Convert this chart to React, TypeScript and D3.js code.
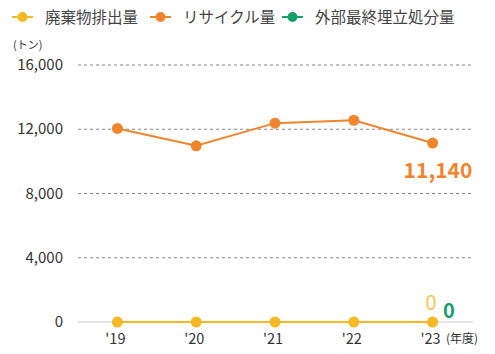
import React from "react";
import * as d3 from "d3";

const years = ["'19", "'20", "'21", "'22", "'23"];
const wasteValues = [0, 0, 0, 0, 0];
const recycleValues = [12050, 10970, 12380, 12560, 11140];
const landfillValues = [0, 0, 0, 0, 0];
const yTicks = [0, 4000, 8000, 12000, 16000];

const legendItems = [
  { label: "廃棄物排出量", color: "#F5B925" },
  { label: "リサイクル量", color: "#F0852D" },
  { label: "外部最終埋立処分量", color: "#14A06B" },
];

const W = 495;
const H = 354;
const font = "'Noto Sans CJK JP', 'Noto Sans', sans-serif";

export default function App() {
  const x = d3.scalePoint<string>().domain(years).range([78, 472]).padding(0.5);
  const y = d3.scaleLinear().domain([0, 16000]).range([322, 65]);
  const fmt = d3.format(",");

  const line = d3
    .line<number>()
    .x((_, i) => x(years[i]) as number)
    .y((d) => y(d));

  const legendX = [12, 150, 282];

  return (
    <svg width={W} height={H} style={{ position: "absolute", left: 0, top: 0, fontFamily: font }}>
      <rect width={W} height={H} fill="#fff" />
      {legendItems.map((it, i) => (
        <g key={i} transform={`translate(${legendX[i]},17)`}>
          <line x1={0} x2={21} y1={0} y2={0} stroke={it.color} strokeWidth={2} />
          <circle cx={10.5} cy={0} r={5} fill={it.color} />
          <text x={33} y={5.5} fontSize={15.5} fill="#444">{it.label}</text>
        </g>
      ))}
      <text x={13} y={49} fontSize={11} fill="#333">(トン)</text>

      {yTicks.map((t) => (
        <g key={t}>
          {t > 0 ? (
            <line x1={78} x2={473} y1={y(t)} y2={y(t)} stroke="#888" strokeWidth={1} strokeDasharray="3,3" />
          ) : (
            <line x1={78} x2={473} y1={y(t)} y2={y(t)} stroke="#ccc" strokeWidth={1} />
          )}
          <text x={63} y={y(t) + 5} fontSize={15} textAnchor="end" fill="#333">{fmt(t)}</text>
        </g>
      ))}

      {years.map((yr) => (
        <text key={yr} x={(x(yr) as number) - 2} y={344} fontSize={14.5} textAnchor="middle" fill="#333">{yr}</text>
      ))}
      <text x={446} y={343} fontSize={12} fill="#333">(年度)</text>

      <path d={line(landfillValues) || ""} fill="none" stroke={legendItems[2].color} strokeWidth={2} />
      <path d={line(recycleValues) || ""} fill="none" stroke={legendItems[1].color} strokeWidth={2} />
      <path d={line(wasteValues) || ""} fill="none" stroke={legendItems[0].color} strokeWidth={2} />

      {recycleValues.map((v, i) => (
        <circle key={"r" + i} cx={x(years[i]) as number} cy={y(v)} r={5.5} fill={legendItems[1].color} />
      ))}
      {wasteValues.map((v, i) => (
        <circle key={"w" + i} cx={x(years[i]) as number} cy={y(v)} r={5.5} fill={legendItems[0].color} />
      ))}

      <text x={438} y={178} fontSize={21} fontWeight="bold" textAnchor="middle" fill={legendItems[1].color}>
        {fmt(recycleValues[4])}
      </text>
      <text x={431} y={310} fontSize={20} textAnchor="middle" fill="#F7C650">{fmt(wasteValues[4])}</text>
      <text x={449} y={318} fontSize={20} fontWeight="bold" textAnchor="middle" fill={legendItems[2].color}>
        {fmt(landfillValues[4])}
      </text>
    </svg>
  );
}
